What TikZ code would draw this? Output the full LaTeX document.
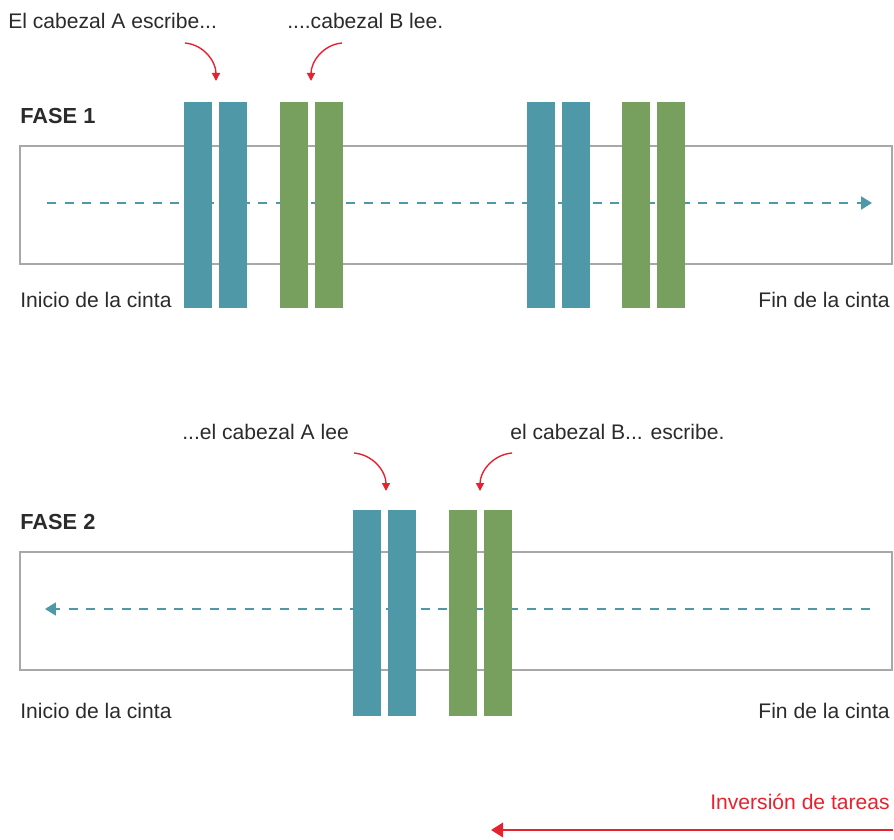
\documentclass[tikz,border=0pt]{standalone}
\usepackage{fontspec}
\setmainfont{Liberation Sans}
\usetikzlibrary{positioning}
\usetikzlibrary{arrows.meta}
\usepackage{xcolor}

\definecolor{cabA}{HTML}{4F98A8}
\definecolor{cabB}{HTML}{77A05F}
\definecolor{rojo}{HTML}{E52330}
\definecolor{cinta}{HTML}{A8A8A8}
\definecolor{texto}{HTML}{2B2B2B}

\tikzset{
  barA/.style={fill=cabA, inner sep=0pt, minimum width=0.7cm, minimum height=5.15cm, anchor=north west},
  barB/.style={fill=cabB, inner sep=0pt, minimum width=0.7cm, minimum height=5.15cm, anchor=north west},
  tape/.style={draw=cinta, line width=0.05cm},
  recorrido/.style={draw=cabA, line width=0.05cm, dash pattern=on 0.225cm off 0.215cm, -{Triangle[length=0.27cm,width=0.32cm]}},
  flecha/.style={draw=rojo, line width=0.035cm, -{Triangle[length=0.2cm,width=0.2cm]}},
  etiq/.style={inner sep=0pt, text=texto, font=\fontsize{15}{18}\selectfont},
  fase/.style={inner sep=0pt, text=texto, font=\fontsize{15.5}{18}\selectfont\bfseries},
}

\begin{document}
\begin{tikzpicture}[x=0.025cm, y=-0.025cm]
\useasboundingbox (0,0) rectangle (894,840);

% FASE 1
\node[fase, anchor=base west] (fase1) at (20,124) {FASE 1};
\draw[tape] (20,146) rectangle (892,264);
\coordinate (ini1) at (47,203);
\coordinate (fin1) at (872,203);
\draw[recorrido] (ini1) -- (fin1);

\node[barA] (a1) at (184,102) {};
\node[barA] (a2) at (219,102) {};
\node[barB] (b1) at (280,102) {};
\node[barB] (b2) at (315,102) {};

\node[barA] (a3) at (527,102) {};
\node[barA] (a4) at (562,102) {};
\node[barB] (b3) at (622,102) {};
\node[barB] (b4) at (657,102) {};

\node[etiq, anchor=base west] (inicio1) at (20,307) {Inicio de la cinta};
\node[etiq, anchor=base east] (final1) at (890,307) {Fin de la cinta};

\node[etiq, anchor=base west] (escribeA) at (8,29) {El cabezal A escribe...};
\node[etiq, anchor=base west] (leeB) at (287,29) {....cabezal B lee.};
\coordinate (s1) at (185,43);
\coordinate (t1) at (216,81);
\coordinate (s2) at (342,43);
\coordinate (t2) at (311,81);
\draw[flecha] (s1) to[out=-5, in=90] (t1);
\draw[flecha] (s2) to[out=185, in=90] (t2);

% FASE 2
\node[fase, anchor=base west] (fase2) at (20,529) {FASE 2};
\draw[tape] (20,552) rectangle (892,670);
\coordinate (ini2) at (870,609);
\coordinate (fin2) at (45,609);
\draw[recorrido] (ini2) -- (fin2);

\node[barA] (a5) at (353,510) {};
\node[barA] (a6) at (388,510) {};
\node[barB] (b5) at (449,510) {};
\node[barB] (b6) at (484,510) {};

\node[etiq, anchor=base west] (inicio2) at (20,718) {Inicio de la cinta};
\node[etiq, anchor=base east] (final2) at (890,718) {Fin de la cinta};

\node[etiq, anchor=base west] (leeA) at (182,439) {...el cabezal A lee};
\node[etiq, anchor=base west] (escribeB) at (510,439) {el cabezal B... escribe.};
\coordinate (s3) at (354,453);
\coordinate (t3) at (386,491);
\coordinate (s4) at (512,453);
\coordinate (t4) at (480,491);
\draw[flecha] (s3) to[out=-5, in=90] (t3);
\draw[flecha] (s4) to[out=185, in=90] (t4);

% inversion
\node[etiq, text=rojo, anchor=base east] (inversion) at (890,809) {Inversión de tareas};
\coordinate (invd) at (893,830);
\coordinate (invi) at (491,830);
\draw[rojo, line width=0.06cm, -{Triangle[length=0.3cm,width=0.36cm]}] (invd) -- (invi);

\end{tikzpicture}
\end{document}
